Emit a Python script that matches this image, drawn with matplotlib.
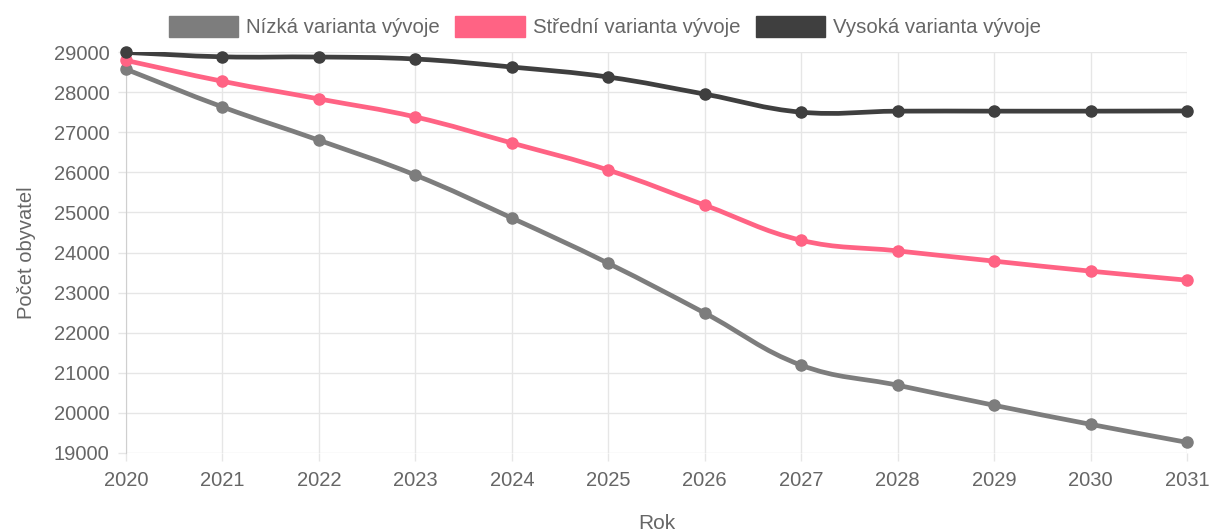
import numpy as np
import matplotlib
matplotlib.use('Agg')
import matplotlib.pyplot as plt
from matplotlib.path import Path
from matplotlib.patches import PathPatch, Patch

plt.rcParams['font.family'] = ['Liberation Sans', 'DejaVu Sans']

roky = [2020, 2021, 2022, 2023, 2024, 2025, 2026, 2027, 2028, 2029, 2030, 2031]
nizka = [28570, 27630, 26800, 25930, 24860, 23730, 22490, 21190, 20690, 20190, 19715, 19265]
stredni = [28790, 28270, 27830, 27380, 26730, 26055, 25180, 24305, 24040, 23785, 23535, 23310]
vysoka = [28990, 28880, 28875, 28825, 28625, 28375, 27950, 27500, 27525, 27525, 27525, 27530]

nazvy = ['Nízká varianta vývoje', 'Střední varianta vývoje', 'Vysoká varianta vývoje']
barvy = ['#7d7d7d', '#ff6384', '#3f3f3f']

fig = plt.figure(figsize=(12.1, 5.31), dpi=100)
ax = fig.add_axes([126/1210, 1-453/531, (1187-126)/1210, (453-52)/531])
ax.set_xlim(2020, 2031)
ax.set_ylim(19000, 29000)


def krivka(x, y, t=0.4):
    # bezier jako v chart.js (splineCurve), pocitano v pixelech
    pts = ax.transData.transform(np.column_stack([x, y]))
    n = len(pts)
    verts = [pts[0]]
    codes = [Path.MOVETO]
    cps = []
    for i in range(n):
        prev = pts[i-1] if i > 0 else pts[i]
        cur = pts[i]
        nxt = pts[i+1] if i < n-1 else pts[i]
        d01 = np.hypot(*(cur-prev))
        d12 = np.hypot(*(nxt-cur))
        s = d01 + d12
        s01 = d01/s if s else 0
        s12 = d12/s if s else 0
        cps.append((cur - t*s01*(nxt-prev), cur + t*s12*(nxt-prev)))
    for i in range(n-1):
        verts += [cps[i][1], cps[i+1][0], pts[i+1]]
        codes += [Path.CURVE4]*3
    verts = ax.transData.inverted().transform(np.array(verts))
    return Path(verts, codes)


for data, c in zip([nizka, stredni, vysoka], barvy):
    ax.add_patch(PathPatch(krivka(roky, data), fill=False, edgecolor=c, lw=3.4,
                           capstyle='round', joinstyle='round', zorder=3))
    ax.plot(roky, data, 'o', color=c, ms=8, zorder=4, clip_on=False)

ax.set_xticks(roky)
ax.set_yticks(range(19000, 29001, 1000))
ax.grid(True, color='#e6e6e6', lw=1)
ax.set_axisbelow(True)
for s in ['top', 'right', 'bottom']:
    ax.spines[s].set_visible(False)
ax.spines['left'].set_color('#cfcfcf')
ax.tick_params(colors='#e6e6e6', labelcolor='#666666', labelsize=14.5, length=6, width=1)
ax.tick_params(axis='x', pad=7)
ax.tick_params(axis='y', pad=6)

ax.set_xlabel('Rok', fontsize=15, color='#666666', labelpad=17)
ax.set_ylabel('Počet obyvatel', fontsize=14.5, color='#666666', labelpad=13)

handles = [Patch(facecolor=c, edgecolor=c) for c in barvy]
fig.legend(handles, nazvy, loc='upper center', bbox_to_anchor=(0.5, 1.005), ncol=3,
           frameon=False, fontsize=14.7, labelcolor='#666666', handlelength=3.4,
           handleheight=1.2, handletextpad=0.4, columnspacing=0.75)

fig.savefig('out.png', dpi=100)
